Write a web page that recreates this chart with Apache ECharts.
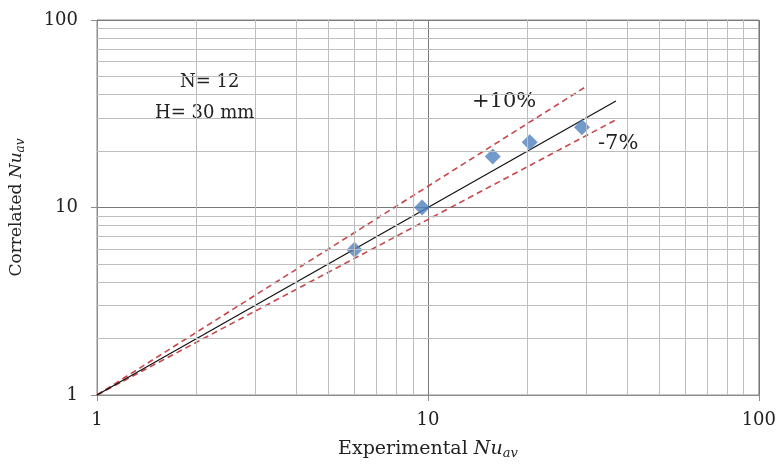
<!DOCTYPE html>
<html>
<head>
<meta charset="utf-8">
<script src="https://cdn.jsdelivr.net/npm/echarts@6/dist/echarts.min.js"></script>
<style>
  html, body { margin: 0; padding: 0; background: #fff; }
  #chart { width: 779px; height: 475px; }
</style>
</head>
<body>
<div id="chart"></div>
<script>
// experimental vs correlated Nu_av
const points = [[6.0, 5.95], [9.6, 10.0], [15.7, 18.7], [20.3, 22.3], [29.2, 26.8]]
const perfectLine = [[1, 1], [37, 37]]
const upperLine = [[1, 1], [30.2, 44.4]]
const lowerLine = [[1, 1], [37.2, 29.5]]
const minorValues = [2, 3, 4, 5, 6, 7, 8, 9, 20, 30, 40, 50, 60, 70, 80, 90]

const font = 'DejaVu Serif'
const chart = echarts.init(document.getElementById('chart'))

const makeRich = (size) => ({
  t: { fontFamily: font, fontSize: size, color: '#222' },
  n: { fontFamily: font, fontSize: size, fontStyle: 'italic', color: '#222' },
  s: { fontFamily: font, fontSize: Math.round(size * 0.68), fontStyle: 'italic', color: '#222', padding: [8, 0, 0, 0] }
})

const axisBase = {
  type: 'log',
  logBase: 10,
  min: 1,
  max: 100,
  axisLine: { show: true, lineStyle: { color: '#8c8c8c', width: 1 } },
  axisTick: { show: true, length: 6, lineStyle: { color: '#8c8c8c' } },
  axisLabel: { fontFamily: font, fontSize: 18, color: '#222' },
  splitLine: { show: true, lineStyle: { color: '#7a7a7a', width: 1 } },
  nameLocation: 'middle'
}

chart.setOption({
  animation: false,
  grid: { left: 97, right: 20, top: 20, bottom: 80, show: true, borderColor: '#8c8c8c', borderWidth: 1 },
  xAxis: {
    ...axisBase,
    name: '{t|Experimental }{n|Nu}{s|av}',
    nameGap: 44,
    nameTextStyle: { rich: makeRich(19) },
    axisLabel: { ...axisBase.axisLabel, margin: 16 }
  },
  yAxis: {
    ...axisBase,
    name: '{t|Correlated }{n|Nu}{s|av}',
    nameGap: 70,
    nameTextStyle: { rich: makeRich(17) },
    axisLabel: { ...axisBase.axisLabel, margin: 19 }
  },
  graphic: [
    { type: 'text', left: 180, top: 73, style: { text: 'N= 12', font: '18px "DejaVu Serif"', fill: '#222' } },
    { type: 'text', left: 155, top: 104, style: { text: 'H= 30 mm', font: '18px "DejaVu Serif"', fill: '#222' } },
    { type: 'text', left: 472, top: 91, style: { text: '+10%', font: '21px "DejaVu Serif"', fill: '#222' } },
    { type: 'text', left: 598, top: 133, style: { text: '-7%', font: '21px "DejaVu Serif"', fill: '#222' } }
  ],
  series: [
    {
      type: 'line',
      data: [],
      z: 1,
      markLine: {
        silent: true,
        symbol: 'none',
        label: { show: false },
        animation: false,
        lineStyle: { color: '#bdbdbd', type: 'solid', width: 1 },
        data: minorValues.map((v) => ({ xAxis: v })).concat(minorValues.map((v) => ({ yAxis: v })))
      }
    },
    {
      type: 'line',
      data: upperLine,
      symbol: 'none',
      z: 3,
      lineStyle: { color: '#c8464a', width: 1.6, type: [6, 4] }
    },
    {
      type: 'line',
      data: lowerLine,
      symbol: 'none',
      z: 3,
      lineStyle: { color: '#c8464a', width: 1.6, type: [6, 4] }
    },
    {
      type: 'line',
      data: perfectLine,
      symbol: 'none',
      z: 3,
      lineStyle: { color: '#111', width: 1.2 }
    },
    {
      type: 'scatter',
      data: points,
      symbol: 'diamond',
      symbolSize: 16,
      z: 4,
      itemStyle: { color: '#4f81bd' }
    }
  ]
})
</script>
</body>
</html>
